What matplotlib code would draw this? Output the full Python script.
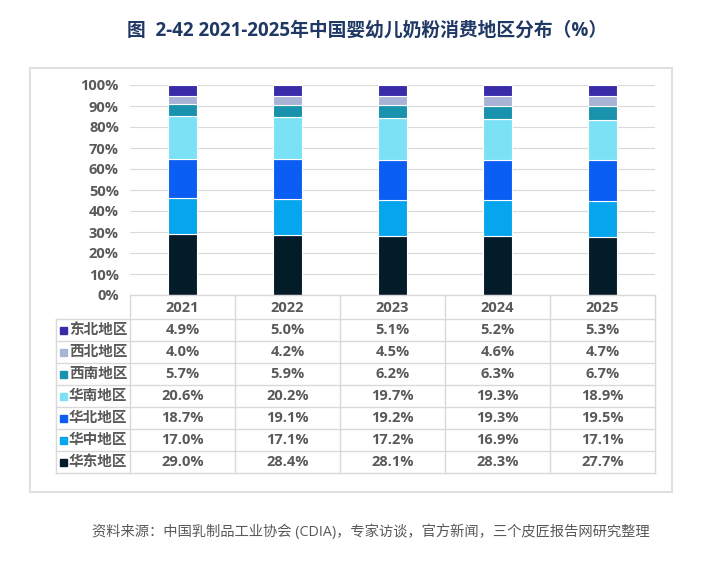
import matplotlib.pyplot as plt
import matplotlib.patches as patches

plt.rcParams['font.family'] = ['Open Sans', 'Noto Sans CJK SC', 'DejaVu Sans']

years = ['2021', '2022', '2023', '2024', '2025']
# rows listed top (table) -> order of stack from top to bottom
regions = ['东北地区', '西北地区', '西南地区', '华南地区', '华北地区', '华中地区', '华东地区']
dongbei = [4.9, 5.0, 5.1, 5.2, 5.3]
xibei = [4.0, 4.2, 4.5, 4.6, 4.7]
xinan = [5.7, 5.9, 6.2, 6.3, 6.7]
huanan = [20.6, 20.2, 19.7, 19.3, 18.9]
huabei = [18.7, 19.1, 19.2, 19.3, 19.5]
huazhong = [17.0, 17.1, 17.2, 16.9, 17.1]
huadong = [29.0, 28.4, 28.1, 28.3, 27.7]
values = [dongbei, xibei, xinan, huanan, huabei, huazhong, huadong]
colors = ['#3a2ca8', '#a9b3d6', '#1892ad', '#7be2f6', '#0a5ef3', '#06a6ee', '#041b2a']

W, H = 711, 562
fig = plt.figure(figsize=(W / 100, H / 100), dpi=100)

def fx(px):
    return px / W

def fy(py):
    return 1 - py / H

gray = '#595959'
grid_c = '#d9d9d9'

# outer frame
fig.patches.append(patches.Rectangle((fx(30), fy(492)), fx(672) - fx(30), fy(68) - fy(492),
                                     transform=fig.transFigure, fill=False,
                                     edgecolor='#e0e0e0', linewidth=1.5))

fig.text(fx(367), fy(31), '图  2-42 2021-2025年中国婴幼儿奶粉消费地区分布（%）',
         ha='center', va='center', fontsize=13.5, fontweight='bold', color='#1f3864')

# bar chart
ax = fig.add_axes([fx(130), fy(295), fx(655) - fx(130), fy(85) - fy(295)])
x = list(range(len(years)))
bottom = [0.0] * len(years)
for name, vals, c in reversed(list(zip(regions, values, colors))):
    ax.bar(x, vals, bottom=bottom, width=0.28, color=c, edgecolor='white', linewidth=0.8, zorder=3)
    bottom = [b + v for b, v in zip(bottom, vals)]
ax.set_xlim(-0.5, len(years) - 0.5)
ax.set_ylim(0, 100)
ax.set_yticks(range(0, 101, 10))
ax.set_yticklabels([f'{t}%' for t in range(0, 101, 10)], fontsize=10.5,
                   fontweight='bold', color=gray)
ax.tick_params(axis='y', length=0, pad=8)
ax.set_xticks([])
ax.grid(axis='y', color=grid_c, linewidth=0.8, zorder=0)
for s in ax.spines.values():
    s.set_visible(False)

# data table
tab = fig.add_axes([fx(56), fy(473), fx(655) - fx(56), fy(295) - fy(473)])
tab.set_xlim(56, 655)
tab.set_ylim(473, 295)
tab.axis('off')
col_edges = [130 + 105 * i for i in range(len(years) + 1)]
row_edges = [295, 319] + [319 + (473 - 319) / 7 * (i + 1) for i in range(7)]
lw = 1.0
tab.plot([130, 655], [295, 295], color=grid_c, lw=lw, clip_on=False)
for r in row_edges[1:]:
    tab.plot([56, 655], [r, r], color=grid_c, lw=lw, clip_on=False)
tab.plot([56, 56], [319, 473], color=grid_c, lw=lw, clip_on=False)
for c in col_edges:
    tab.plot([c, c], [295, 473], color=grid_c, lw=lw, clip_on=False)

for j, yr in enumerate(years):
    tab.text((col_edges[j] + col_edges[j + 1]) / 2, 307.5, yr, ha='center', va='center',
             fontsize=10.5, fontweight='bold', color=gray)
for i, (name, vals, c) in enumerate(zip(regions, values, colors)):
    yc = (row_edges[i + 1] + row_edges[i + 2]) / 2
    tab.add_patch(patches.Rectangle((60, yc - 3.5), 7, 7, color=c, clip_on=False))
    tab.text(69, yc, name, ha='left', va='center', fontsize=10.5, fontweight='bold', color=gray)
    for j, v in enumerate(vals):
        tab.text((col_edges[j] + col_edges[j + 1]) / 2, yc, f'{v:.1f}%', ha='center',
                 va='center', fontsize=10.5, fontweight='bold', color=gray)

fig.text(fx(92), fy(532), '资料来源：中国乳制品工业协会 (CDIA)，专家访谈，官方新闻，三个皮匠报告网研究整理',
         ha='left', va='center', fontsize=10.3, color=gray)

fig.savefig('out.png', dpi=100)
